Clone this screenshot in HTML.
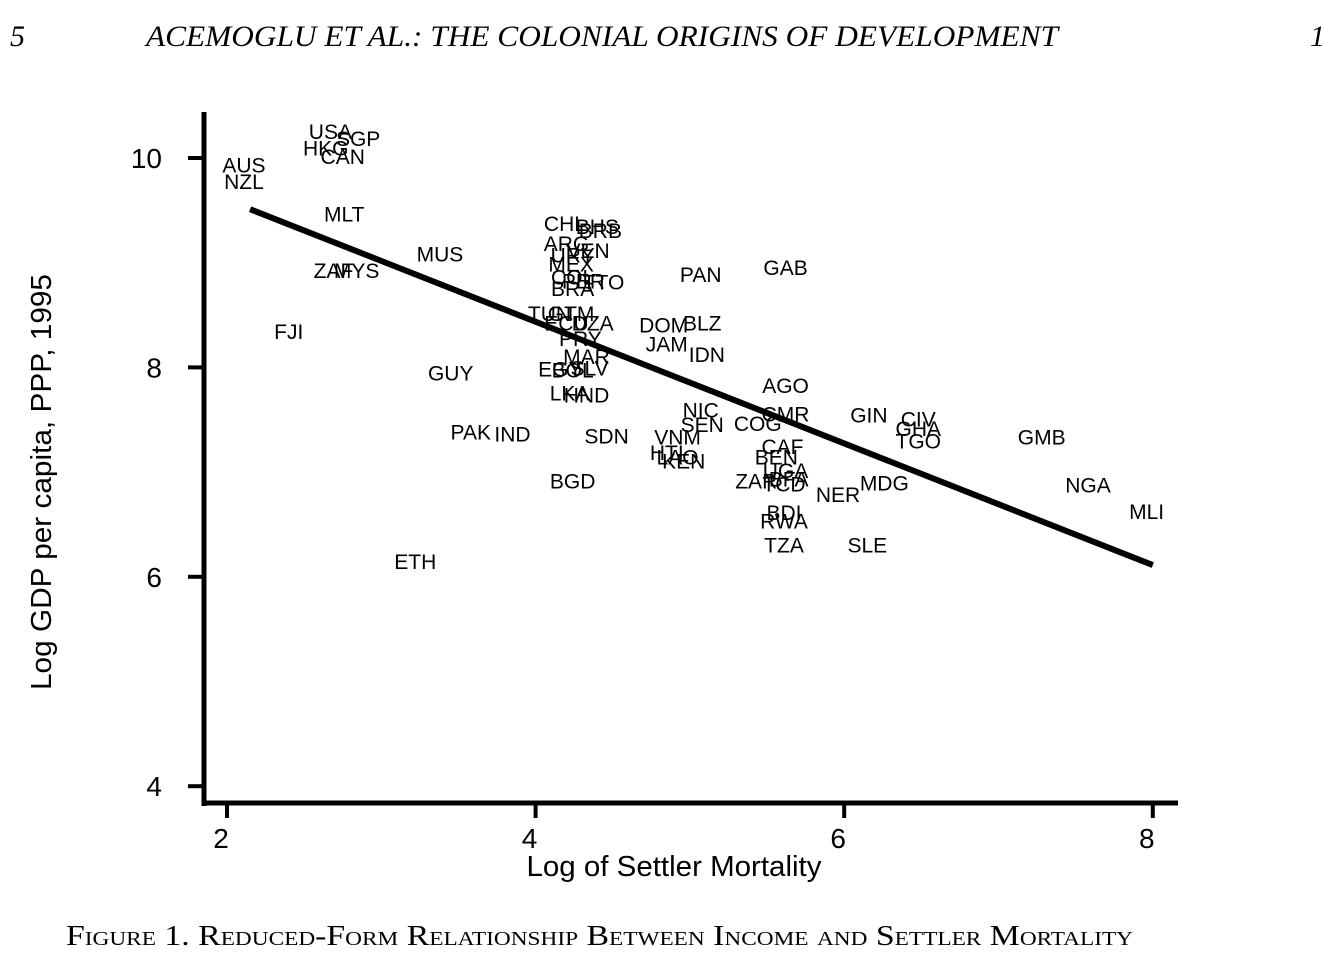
<!DOCTYPE html>
<html><head><meta charset="utf-8"><style>
html,body{margin:0;padding:0;background:#fff;width:1322px;height:956px;overflow:hidden}
svg{display:block}
</style></head><body>
<svg id="chart" width="1322" height="956" xmlns="http://www.w3.org/2000/svg">
<text x="10" y="46" font-family="Liberation Serif, serif" font-style="italic" font-size="30">5</text>
<text x="146" y="46" textLength="912" lengthAdjust="spacingAndGlyphs" font-family="Liberation Serif, serif" font-style="italic" font-size="30">ACEMOGLU ET AL.: THE COLONIAL ORIGINS OF DEVELOPMENT</text>
<text x="1310" y="46" font-family="Liberation Serif, serif" font-style="italic" font-size="30">1</text>
<g id="plot"></g>
<text x="674" y="876" text-anchor="middle" textLength="295" lengthAdjust="spacingAndGlyphs" font-family="Liberation Sans, sans-serif" font-size="29">Log of Settler Mortality</text>
<text transform="translate(51,482) rotate(-90)" text-anchor="middle" textLength="416" lengthAdjust="spacingAndGlyphs" font-family="Liberation Sans, sans-serif" font-size="29">Log GDP per capita, PPP, 1995</text>
<text x="66" y="945" textLength="1067" lengthAdjust="spacingAndGlyphs" font-family="Liberation Serif, serif" font-size="29" style="font-variant:small-caps">Figure 1. Reduced-Form Relationship Between Income and Settler Mortality</text>
</svg>
<script>
const countries=["USA","SGP","HKG","CAN","AUS","NZL","MLT","MUS","ZAF","MYS","FJI","GUY","PAK","IND","ETH","CHL","BHS","BRB","ARG","VEN","URY","MEX","COL","PER","BRA","TTO","TUN","GTM","ECU","DZA","PRY","MAR","EGY","BOL","SLV","LKA","HND","SDN","BGD","PAN","GAB","DOM","BLZ","JAM","IDN","AGO","NIC","SEN","VNM","HTI","LAO","KEN","COG","CMR","CAF","BEN","UGA","ZAR","TCD","BFA","NER","MDG","BDI","RWA","TZA","SLE","GIN","CIV","GHA","TGO","GMB","NGA","MLI"];
const mortality=[2.67,2.85,2.64,2.75,2.11,2.11,2.76,3.38,2.69,2.84,2.40,3.45,3.58,3.85,3.22,4.19,4.40,4.42,4.20,4.34,4.24,4.23,4.24,4.31,4.24,4.44,4.09,4.23,4.20,4.37,4.29,4.33,4.16,4.24,4.35,4.22,4.33,4.46,4.24,5.07,5.62,4.83,5.08,4.85,5.11,5.62,5.07,5.08,4.92,4.85,4.92,4.96,5.44,5.62,5.60,5.56,5.62,5.43,5.61,5.64,5.96,6.26,5.61,5.61,5.61,6.15,6.16,6.48,6.48,6.48,7.28,7.58,7.96];
const gdp=[10.26,10.19,10.10,10.02,9.94,9.78,9.47,9.09,8.93,8.93,8.35,7.95,7.39,7.37,6.15,9.38,9.35,9.31,9.19,9.12,9.08,8.99,8.87,8.83,8.76,8.82,8.52,8.52,8.43,8.43,8.28,8.11,7.99,7.98,8.00,7.76,7.74,7.35,6.92,8.89,8.96,8.41,8.43,8.23,8.13,7.83,7.60,7.46,7.34,7.19,7.15,7.11,7.47,7.56,7.25,7.15,7.02,6.92,6.89,6.94,6.79,6.90,6.62,6.54,6.31,6.31,7.55,7.51,7.42,7.30,7.34,6.88,6.63];
const xTicks=[2,4,6,8];
const yTicks=[4,6,8,10];
const fitIntercept=10.76, fitSlope=-0.581, fitRange=[2.15,8.0];
const NS="http://www.w3.org/2000/svg";
const X=v=>227+(v-2)*154.3, Y=v=>158+(10-v)*104.7;
const g=document.getElementById('plot');
function mk(t,a){const e=document.createElementNS(NS,t);for(const k in a)e.setAttribute(k,a[k]);g.appendChild(e);return e;}
let e;
e=mk('line',{x1:204,y1:112,x2:204,y2:806,stroke:'#000','stroke-width':5});


e=mk('line',{x1:202,y1:803,x2:1178,y2:803,stroke:'#000','stroke-width':5});


yTicks.forEach(v=>{
 e=mk('line',{x1:188,y1:Y(v),x2:204,y2:Y(v),stroke:'#000','stroke-width':4});
 
 
 e=mk('text',{x:162,y:Y(v)+10,'text-anchor':'end','font-family':'Liberation Sans, sans-serif','font-size':28});
 e.textContent=v;
 
 
});
xTicks.forEach(v=>{
 e=mk('line',{x1:X(v),y1:803,x2:X(v),y2:818,stroke:'#000','stroke-width':4});
 
 
 e=mk('text',{x:X(v)-6,y:848,'text-anchor':'middle','font-family':'Liberation Sans, sans-serif','font-size':28});
 e.textContent=v;
 
 
});
e=mk('line',{x1:X(fitRange[0]),y1:Y(fitIntercept+fitSlope*fitRange[0]),x2:X(fitRange[1]),y2:Y(fitIntercept+fitSlope*fitRange[1]),stroke:'#000','stroke-width':6});


countries.forEach((c,i)=>{
 e=mk('text',{x:X(mortality[i]),y:Y(gdp[i])+8,'text-anchor':'middle','font-family':'Liberation Sans, sans-serif','font-size':21});
 e.textContent=c;
 
 
});
</script>
</body></html>
